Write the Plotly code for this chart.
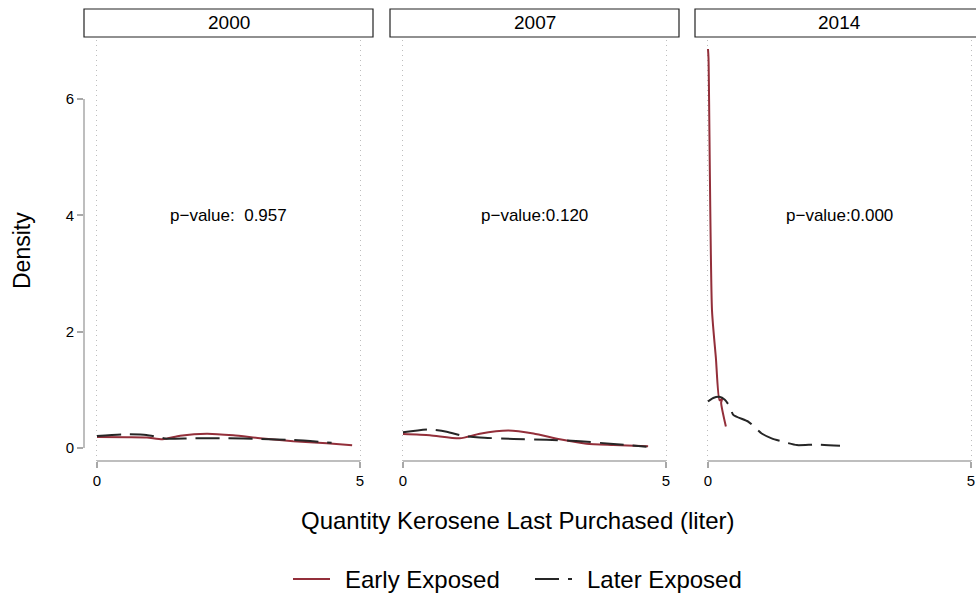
import plotly.graph_objects as go

# Kernel density estimates of kerosene quantity last purchased, by survey year
years = ["2000", "2007", "2014"]
p_values = ["p\u2212value:\u00a0 0.957", "p\u2212value:0.120", "p\u2212value:0.000"]
series_names = ["Early Exposed", "Later Exposed"]

early_x_2000 = [0.0, 0.57, 0.95, 1.25, 1.58, 2.09, 2.59, 3.10, 3.73, 4.37, 4.85]
early_y_2000 = [0.19, 0.185, 0.18, 0.15, 0.21, 0.246, 0.218, 0.167, 0.115, 0.08, 0.046]
later_x_2000 = [0.0, 0.5, 0.94, 1.2, 1.32, 1.83, 2.46, 3.1, 3.73, 4.46]
later_y_2000 = [0.206, 0.235, 0.223, 0.18, 0.16, 0.167, 0.167, 0.155, 0.137, 0.091]

early_x_2007 = [0.0, 0.51, 1.08, 1.46, 2.0, 2.48, 2.98, 3.49, 4.0, 4.66]
early_y_2007 = [0.24, 0.22, 0.166, 0.246, 0.30, 0.25, 0.15, 0.074, 0.052, 0.029]
later_x_2007 = [0.0, 0.51, 0.83, 1.15, 1.46, 2.1, 2.73, 3.37, 4.0, 4.63]
later_y_2007 = [0.27, 0.32, 0.28, 0.206, 0.18, 0.155, 0.143, 0.115, 0.069, 0.023]

early_x_2014 = [0.0, 0.01, 0.076, 0.15, 0.22, 0.27, 0.25, 0.34]
early_y_2014 = [6.86, 6.70, 2.37, 1.55, 0.82, 0.85, 0.78, 0.37]
later_x_2014 = [0.0, 0.1, 0.215, 0.32, 0.42, 0.48, 0.77, 1.02, 1.21, 1.50, 1.69, 2.07, 2.51]
later_y_2014 = [0.80, 0.86, 0.88, 0.83, 0.70, 0.57, 0.45, 0.25, 0.166, 0.09, 0.05, 0.06, 0.04]

early = [(early_x_2000, early_y_2000), (early_x_2007, early_y_2007), (early_x_2014, early_y_2014)]
later = [(later_x_2000, later_y_2000), (later_x_2007, later_y_2007), (later_x_2014, later_y_2014)]

x_ticks = [0, 5]
y_ticks = [0, 2, 4, 6]

W, H = 976, 594
FONT = "Liberation Sans, Arial, Helvetica, sans-serif"
RED = "#932f3a"
DARK = "#262626"
AXIS_GREY = "#a8a8a8"
DASH = "24px,9px"

# pixel layout of the three panels
panel_px = [(84, 373), (390, 679), (695, 976)]
plot_top, plot_bottom = 40, 461
x_ranges = [[-0.247, 5.247], [-0.247, 5.247], [-0.247, 5.095]]
y_range = [-0.2235, 7.014]


def px_x(p):
    return p / W


def px_y(p):
    return (H - p) / H


fig = go.Figure()

for i in range(3):
    suffix = "" if i == 0 else str(i + 1)
    ex, ey = early[i]
    lx, ly = later[i]
    fig.add_trace(go.Scatter(
        x=ex, y=ey, mode="lines", name=series_names[0],
        line=dict(color=RED, width=2, shape="spline", smoothing=0.6),
        xaxis="x" + suffix, yaxis="y" + suffix, showlegend=False,
    ))
    fig.add_trace(go.Scatter(
        x=lx, y=ly, mode="lines", name=series_names[1],
        line=dict(color=DARK, width=2, dash=DASH, shape="spline", smoothing=0.6),
        xaxis="x" + suffix, yaxis="y" + suffix, showlegend=False,
    ))

layout = dict(
    width=W, height=H,
    margin=dict(l=0, r=0, t=0, b=0),
    paper_bgcolor="white", plot_bgcolor="white",
    font=dict(family=FONT, color="black"),
    showlegend=False,
)

shapes = []
annotations = []

for i in range(3):
    suffix = "" if i == 0 else str(i + 1)
    x0p, x1p = panel_px[i]
    layout["xaxis" + suffix] = dict(
        domain=[px_x(x0p), min(px_x(x1p), 1.0)],
        range=x_ranges[i], anchor="y" + suffix,
        tickvals=x_ticks, ticks="outside", ticklen=6, tickwidth=1.5, tickcolor=AXIS_GREY,
        tickfont=dict(size=15, family=FONT, color="black"),
        showgrid=True, gridcolor="#bdbdbd", griddash="1px,4px", gridwidth=1,
        zeroline=False, showline=False, fixedrange=True,
    )
    layout["yaxis" + suffix] = dict(
        domain=[px_y(plot_bottom), px_y(plot_top)],
        range=y_range, anchor="x" + suffix,
        tickvals=y_ticks if i == 0 else [],
        ticks="outside" if i == 0 else "", ticklen=6, tickwidth=1.5, tickcolor=AXIS_GREY,
        tickfont=dict(size=15, family=FONT, color="black"),
        showticklabels=(i == 0),
        showgrid=False, zeroline=False, showline=False, fixedrange=True,
    )
    # x axis line spanning the labelled ticks
    shapes.append(dict(
        type="line", xref="x" + suffix, yref="paper",
        x0=x_ticks[0], x1=x_ticks[-1], y0=px_y(plot_bottom), y1=px_y(plot_bottom),
        line=dict(color=AXIS_GREY, width=1.5),
    ))
    # strip header box with the year
    right = x1p + (8 if i == 2 else 0)
    shapes.append(dict(
        type="rect", xref="paper", yref="paper",
        x0=px_x(x0p), x1=px_x(right), y0=px_y(37), y1=px_y(9),
        line=dict(color="#222222", width=1.2), fillcolor="white", layer="below",
    ))
    annotations.append(dict(
        text=years[i], xref="paper", yref="paper",
        x=px_x((x0p + right) / 2), y=px_y(23),
        showarrow=False, font=dict(size=19, family=FONT, color="black"),
        xanchor="center", yanchor="middle",
    ))
    annotations.append(dict(
        text=p_values[i], xref="x" + suffix, yref="y" + suffix,
        x=2.5, y=4.0, showarrow=False,
        font=dict(size=17, family=FONT, color="black"),
        xanchor="center", yanchor="middle",
    ))

# y axis line from the lowest to highest labelled tick
shapes.append(dict(
    type="line", xref="paper", yref="y",
    x0=px_x(84), x1=px_x(84), y0=y_ticks[0], y1=y_ticks[-1],
    line=dict(color=AXIS_GREY, width=1.5),
))

annotations.append(dict(
    text="Quantity Kerosene Last Purchased (liter)", xref="paper", yref="paper",
    x=px_x(518), y=px_y(520), showarrow=False,
    font=dict(size=24, family=FONT, color="black"),
    xanchor="center", yanchor="middle",
))
annotations.append(dict(
    text="Density", xref="paper", yref="paper",
    x=px_x(22), y=px_y(251), showarrow=False, textangle=-90,
    font=dict(size=23, family=FONT, color="black"),
    xanchor="center", yanchor="middle",
))

# legend: key line then label for each series
legend_y = px_y(579)
legend_items = [(293, 330, 343, RED, "solid"), (535, 572, 585, DARK, DASH)]
for name, (k0, k1, tx, col, dash) in zip(series_names, legend_items):
    shapes.append(dict(
        type="line", xref="paper", yref="paper",
        x0=px_x(k0), x1=px_x(k1), y0=legend_y, y1=legend_y,
        line=dict(color=col, width=2, dash=dash),
    ))
    annotations.append(dict(
        text=name, xref="paper", yref="paper",
        x=px_x(tx), y=legend_y, showarrow=False,
        font=dict(size=24, family=FONT, color="black"),
        xanchor="left", yanchor="middle",
    ))

layout["shapes"] = shapes
layout["annotations"] = annotations
fig.update_layout(**layout)

fig.write_html("out.html")
